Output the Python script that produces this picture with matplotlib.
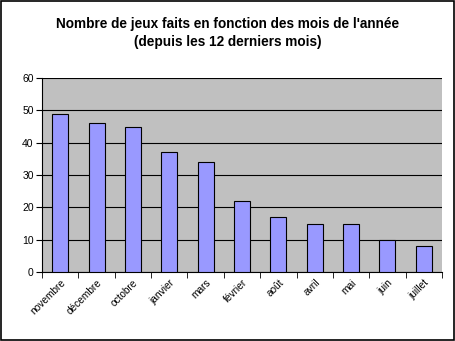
import matplotlib.pyplot as plt
import numpy as np

months = ["novembre", "décembre", "octobre", "janvier", "mars", "février",
          "août", "avril", "mai", "juin", "juillet"]
games = [49, 46, 45, 37, 34, 22, 17, 15, 15, 10, 8]
y_ticks = [0, 10, 20, 30, 40, 50, 60]

plt.rcParams["font.family"] = ["Liberation Sans", "DejaVu Sans"]

fig = plt.figure(figsize=(4.55, 3.41), dpi=100)
ax = fig.add_axes([0.0923, 0.2023, 0.8791, 0.5689])
ax.set_facecolor("#c0c0c0")

x = np.arange(len(months))
ax.bar(x, games, width=0.44, color="#9999ff", edgecolor="black", linewidth=0.8, zorder=3)

ax.set_ylim(0, 60)
ax.set_xlim(-0.5, len(months) - 0.5)
ax.set_yticks(y_ticks)
ax.set_yticklabels([str(v) for v in y_ticks], fontsize=7.5)
ax.yaxis.grid(True, color="black", linewidth=0.8, zorder=1)

# category labels centred, tick marks between categories
ax.set_xticks(x)
ax.set_xticklabels(months, rotation=45, ha="right", rotation_mode="anchor", fontsize=7.3)
ax.tick_params(axis="x", length=0, pad=4)
ax.set_xticks(np.arange(-0.5, len(months)), minor=True)
ax.tick_params(axis="x", which="minor", length=4, direction="out")
ax.tick_params(axis="y", length=4, direction="out", pad=2)

for side in ["top", "right"]:
    ax.spines[side].set_visible(False)
ax.spines["left"].set_linewidth(0.8)
ax.spines["bottom"].set_linewidth(0.8)

fig.text(0.5, 0.95, "Nombre de jeux faits en fonction des mois de l'année\n(depuis les 12 derniers mois)",
         ha="center", va="top", fontsize=9.8, fontweight="bold", linespacing=1.35)

fig.patches.append(plt.Rectangle((0.002, 0.003), 0.995, 0.994, transform=fig.transFigure,
                                 fill=False, edgecolor="black", linewidth=1.2))

fig.savefig("out.png", dpi=100)
